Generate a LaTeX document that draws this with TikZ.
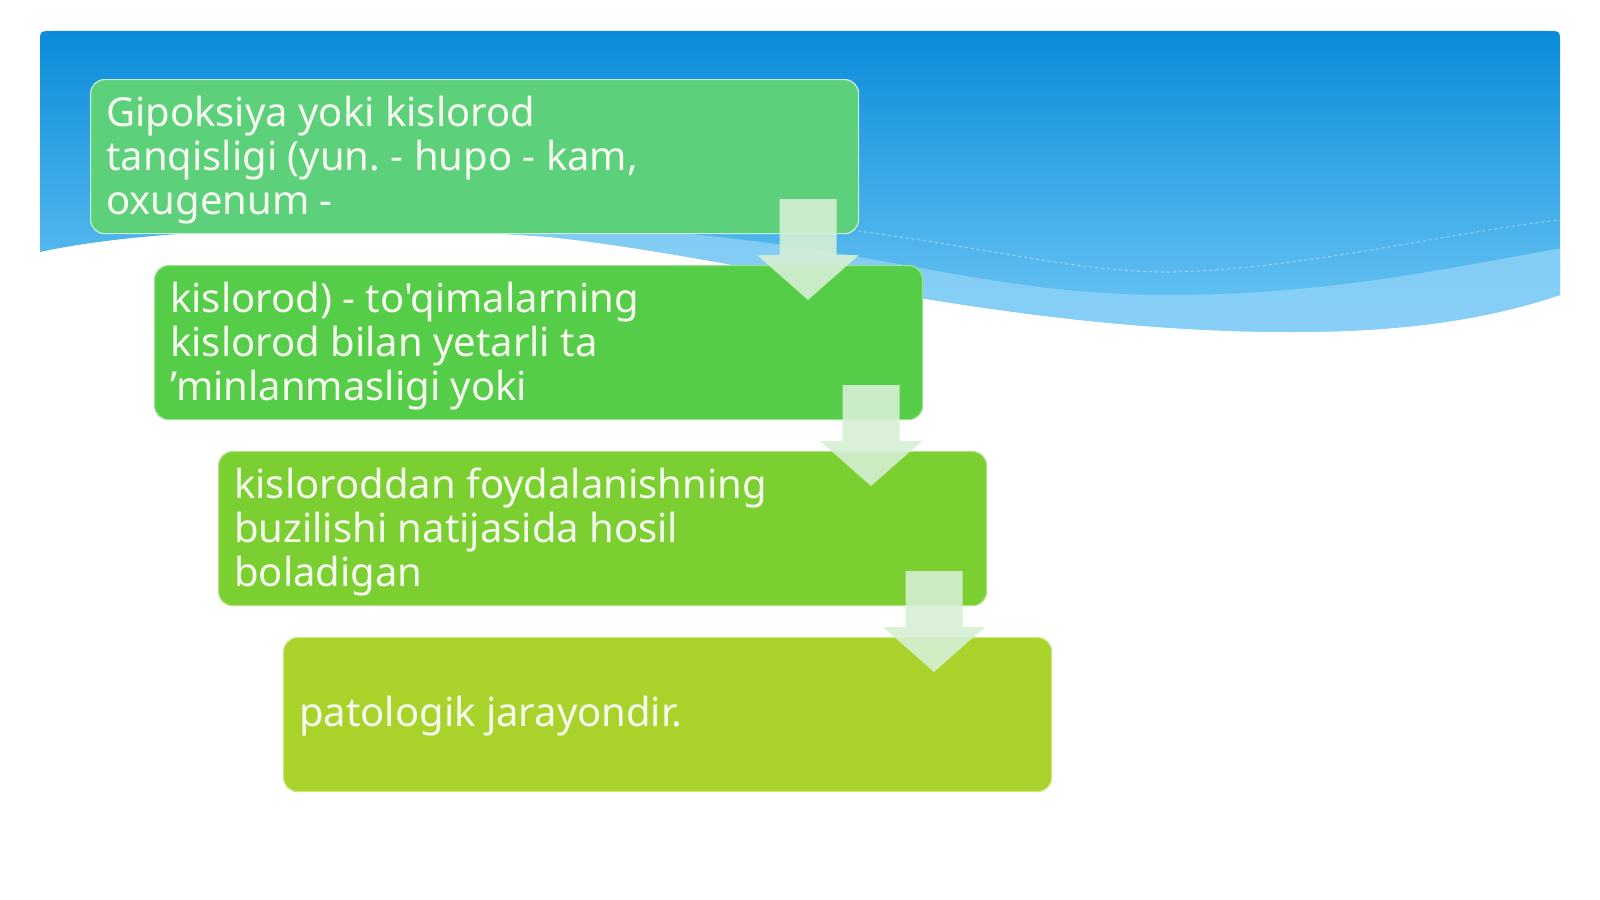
\documentclass[tikz,border=0pt]{standalone}
\usepackage{fontspec}
\newfontfamily\txtfont{Noto Sans}
\definecolor{hdtop}{HTML}{0A8CDA}
\definecolor{hdbot}{HTML}{6CC6F4}
\definecolor{bandc}{HTML}{8FD2F7}
\definecolor{boxa}{HTML}{5DD07B}
\definecolor{boxb}{HTML}{56CD48}
\definecolor{boxc}{HTML}{7BCF31}
\definecolor{boxd}{HTML}{A9D32A}
\definecolor{arrc}{HTML}{D6EFD3}
\definecolor{txtc}{HTML}{F6FCEF}
\newcommand\hdrpath{(40,252) -- (40,43) .. controls (40,31) .. (52,31) -- (1548,31) .. controls (1560,31) .. (1560,43) -- (1560,295) .. controls (1500,315) and (1420,332) .. (1293,332) .. controls (1000,332) and (750,258) .. (550,237) .. controls (350,222) and (150,228) .. (40,252) -- cycle}
\tikzset{
  boxnode/.style={rounded corners=14pt, minimum width=768pt, minimum height=154pt, anchor=north west, inner sep=0pt, line width=1.2pt},
  txt/.style={font=\txtfont\fontsize{40}{44}\selectfont\frenchspacing, text=txtc, align=left, inner sep=0pt, anchor=west},
  downarrow/.pic={\fill[arrc, opacity=0.9] (-28.5,0) -- (28.5,0) -- (28.5,56) -- (51,56) -- (0,101) -- (-51,56) -- (-28.5,56) -- cycle;}
}
\begin{document}
\begin{tikzpicture}[x=1pt,y=-1pt]
\useasboundingbox (0,0) rectangle (1600,899);
\fill[white] (0,0) rectangle (1600,899);
% header
\shade[top color=hdtop, bottom color=hdbot] \hdrpath;
\begin{scope}
  \clip \hdrpath;
  \fill[bandc, opacity=0.8] (0,265) .. controls (300,225) and (500,215) .. (700,235) .. controls (900,255) and (1000,295) .. (1168,295) .. controls (1350,295) and (1480,260) .. (1600,242) -- (1600,400) -- (0,400) -- cycle;
  \draw[white, opacity=0.55, dashed, line width=0.8pt] (858,231) .. controls (1000,250) and (1080,272) .. (1168,272) .. controls (1300,270) and (1450,232) .. (1560,220);
\end{scope}
% boxes
\node[boxnode, fill=boxa, draw=white!65!boxa] (b1) at (90,79) {};
\node[boxnode, fill=boxb, draw=white!40!boxb] (b2) at (154,265) {};
\node[boxnode, fill=boxc, draw=white!40!boxc] (b3) at (218,451) {};
\node[boxnode, fill=boxd, draw=white!40!boxd] (b4) at (283,637) {};
% arrows
\pic at (808,199) {downarrow};
\pic at (871,385) {downarrow};
\pic at (934,571) {downarrow};
% texts
\node[txt] (t1) at ([xshift=16pt,yshift=-3pt]b1.west) {Gipoksiya yoki kislorod\\tanqisligi (yun. - hupo - kam,\\oxugenum -};
\node[txt] (t2) at ([xshift=16pt,yshift=-3pt]b2.west) {kislorod) - to'qimalarning\\kislorod bilan yetarli ta\\’minlanmasligi yoki};
\node[txt] (t3) at ([xshift=16pt,yshift=-3pt]b3.west) {kisloroddan foydalanishning\\buzilishi natijasida hosil\\boladigan};
\node[txt] (t4) at ([xshift=16pt,yshift=-1pt]b4.west) {patologik jarayondir.};
\end{tikzpicture}
\end{document}
